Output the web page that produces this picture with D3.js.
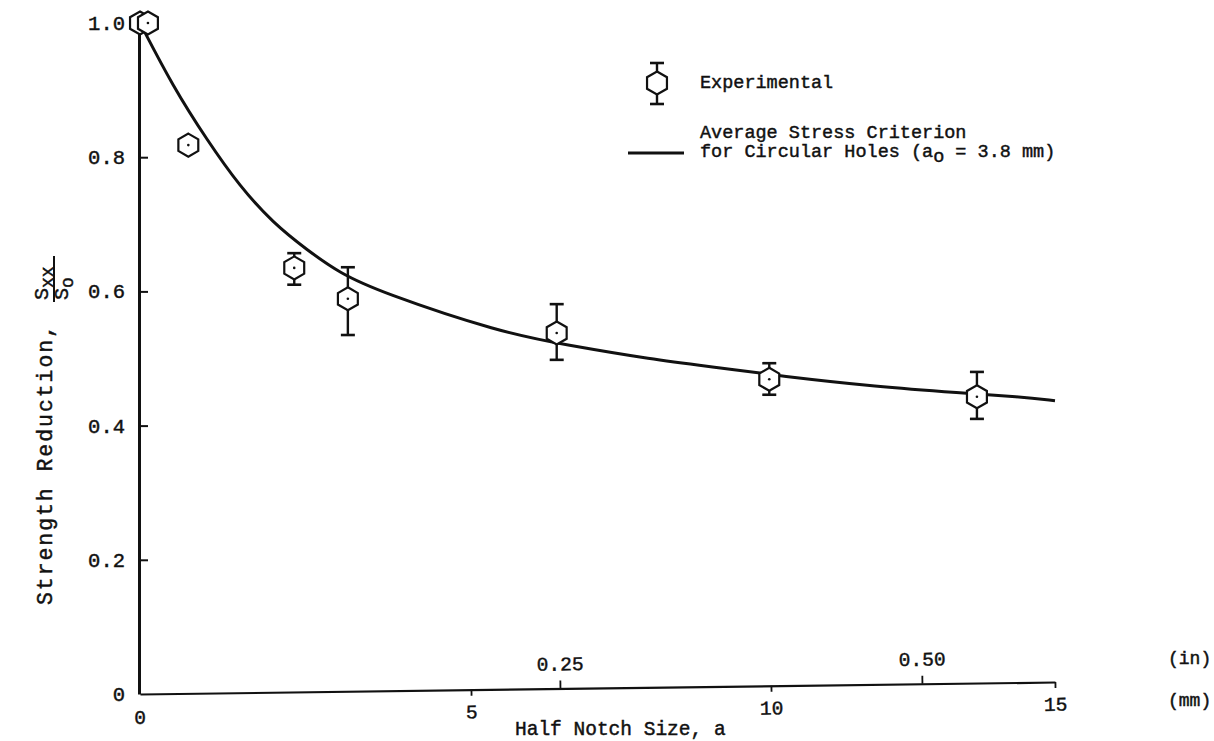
<!DOCTYPE html>
<html><head><meta charset="utf-8">
<script src="https://cdn.jsdelivr.net/npm/d3@7"></script>
<style>
body{margin:0;background:#fff;}
svg text{font-family:"Liberation Mono","DejaVu Sans Mono",monospace;fill:#111;stroke:#111;stroke-width:0.45px;}
</style></head><body>
<svg id="chart" width="1214" height="741"></svg>
<script>
// ---- data ----
const mmTicks = [5, 10, 15];
const mmTickLabels = ["5", "10", "15"];
const inTicks = [0.25, 0.50];
const inTickLabels = ["0.25", "0.50"];
const yTicks = [0, 0.2, 0.4, 0.6, 0.8, 1.0];
const yTickLabels = ["0", "0.2", "0.4", "0.6", "0.8", "1.0"];

const expA  = [0.0, 0.12, 0.73, 2.33, 3.14, 6.30, 9.97, 13.65];
const expS  = [1.0, 1.0, 0.818, 0.635, 0.589, 0.538, 0.469, 0.443];
const expHi = [null, null, null, 0.657, 0.636, 0.581, 0.493, 0.480];
const expLo = [null, null, null, 0.610, 0.535, 0.498, 0.446, 0.410];

const curveA = [0, 0.50, 1.01, 1.51, 2.01, 2.52, 3.02, 3.63, 5.44, 6.47, 7.91, 9.12, 10.16, 11.9, 13.36, 14.39, 15];
const curveS = [1.0, 0.905, 0.826, 0.756, 0.702, 0.662, 0.627, 0.599, 0.539, 0.520, 0.499, 0.486, 0.474, 0.458, 0.449, 0.443, 0.437];

// ---- scales ----
const svg = d3.select("#chart");
svg.append("rect").attr("width", 1214).attr("height", 741).attr("fill", "#fff");

const x = d3.scaleLinear().domain([0, 5, 6.35, 10, 12.7, 15]).range([140, 471, 560, 771, 922, 1055]);
const y = d3.scaleLinear().domain([0, 1]).range([694, 23]);

// ---- experimental markers (drawn under axis for the first one) ----
const R = 11.5;
const hex = d3.range(6).map(k => {
  const ang = -Math.PI / 2 + k * Math.PI / 3;
  return [R * Math.cos(ang), R * Math.sin(ang)];
});
const hexPath = "M" + hex.map(p => p.join(",")).join("L") + "Z";

function marker(g, cx, cy, yHi, yLo) {
  const m = g.append("g");
  if (yHi != null) {
    m.append("line").attr("x1", cx).attr("x2", cx).attr("y1", yHi).attr("y2", yLo)
      .attr("stroke", "#111").attr("stroke-width", 2.4);
    [yHi, yLo].forEach(v => m.append("line").attr("x1", cx - 7).attr("x2", cx + 7)
      .attr("y1", v).attr("y2", v).attr("stroke", "#111").attr("stroke-width", 2.6));
  }
  m.append("path").attr("d", hexPath).attr("transform", `translate(${cx},${cy})`)
    .attr("fill", "#fff").attr("stroke", "#111").attr("stroke-width", 2.2);
  m.append("circle").attr("cx", cx).attr("cy", cy).attr("r", 1.3).attr("fill", "#111");
}

// ---- y axis ----
const yAxis = d3.axisLeft(y).tickValues(yTicks).tickFormat((d, i) => yTickLabels[i])
  .tickSize(-9).tickSizeOuter(0).tickPadding(14);
const gy = svg.append("g").attr("transform", "translate(139,0)").call(yAxis);
gy.select(".domain").attr("stroke", "#111").attr("stroke-width", 3);
gy.selectAll(".tick line").attr("stroke", "#111").attr("stroke-width", 2)
  .filter(d => d === 0 || d === 1).remove();
gy.selectAll(".tick text").style("font-size", "20.5px").attr("fill", "#111");

// ---- x axes (slightly tilted as in the scan) ----
const gxWrap = svg.append("g").attr("transform", "translate(0,694) rotate(-0.75 140 0)");
const xAxis = d3.axisBottom(x).tickValues(mmTicks).tickFormat((d, i) => mmTickLabels[i])
  .tickSize(6).tickSizeOuter(0).tickPadding(9);
const gx = gxWrap.append("g").call(xAxis);
gx.select(".domain").attr("stroke", "#111").attr("stroke-width", 2.2);
gx.selectAll(".tick line").attr("stroke", "#111").attr("stroke-width", 1.8);
gx.selectAll(".tick text").style("font-size", "19.5px").attr("fill", "#111");

const xInAxis = d3.axisTop(x).tickValues(inTicks.map(v => v * 25.4))
  .tickFormat((d, i) => inTickLabels[i]).tickSize(8).tickSizeOuter(0).tickPadding(10);
const gxi = gxWrap.append("g").call(xInAxis);
gxi.select(".domain").remove();
gxi.selectAll(".tick line").attr("stroke", "#111").attr("stroke-width", 1.8);
gxi.selectAll(".tick text").style("font-size", "19.5px").attr("fill", "#111");

// origin label "0" under axis
svg.append("text").attr("x", x(0)).attr("y", 724).attr("text-anchor", "middle")
  .style("font-size", "19.5px").text("0");

// unit labels
svg.append("text").attr("x", 1168).attr("y", 664).style("font-size", "18px").text("(in)");
svg.append("text").attr("x", 1168).attr("y", 706).style("font-size", "18px").text("(mm)");

// axis titles
svg.append("text").attr("x", 515).attr("y", 735).style("font-size", "19.5px").text("Half Notch Size, a");

const yl = svg.append("g").attr("transform", "translate(52,605) rotate(-90)");
yl.append("text").attr("x", 0).attr("y", 0).style("font-size", "21.5px")
  .attr("textLength", 280).attr("lengthAdjust", "spacing").text("Strength Reduction,");
// fraction S_xx / S_o
const fr = yl.append("g").attr("transform", "translate(303,0)");
const num = fr.append("text").attr("x", 2).attr("y", -4).style("font-size", "20px");
num.append("tspan").text("S");
num.append("tspan").attr("dy", 5).style("font-size", "18px").text("xx");
fr.append("line").attr("x1", 0).attr("x2", 46).attr("y1", 2).attr("y2", 2)
  .attr("stroke", "#111").attr("stroke-width", 2);
const den = fr.append("text").attr("x", 2).attr("y", 16).style("font-size", "20px");
den.append("tspan").text("S");
den.append("tspan").attr("dy", 5).style("font-size", "18px").text("o");

// ---- curve ----
const curvePts = curveA.map((a, i) => [a, curveS[i]]);
svg.append("path").datum(curvePts)
  .attr("d", d3.line().x(d => x(d[0])).y(d => y(d[1])).curve(d3.curveBasis))
  .attr("fill", "none").attr("stroke", "#111").attr("stroke-width", 3);

const gm = svg.append("g");
expA.forEach((a, i) => marker(gm, x(a), y(expS[i]),
  expHi[i] == null ? null : y(expHi[i]), expLo[i] == null ? null : y(expLo[i])));

// ---- legend ----
const lg = svg.append("g");
lg.append("line").attr("x1", 657).attr("x2", 657).attr("y1", 63).attr("y2", 104)
  .attr("stroke", "#111").attr("stroke-width", 2.4);
[63, 104].forEach(v => lg.append("line").attr("x1", 650).attr("x2", 664).attr("y1", v).attr("y2", v)
  .attr("stroke", "#111").attr("stroke-width", 2.6));
lg.append("path").attr("d", hexPath).attr("transform", "translate(657,83)")
  .attr("fill", "#fff").attr("stroke", "#111").attr("stroke-width", 2.2);
lg.append("text").attr("x", 700).attr("y", 88).style("font-size", "18.5px").text("Experimental");

lg.append("line").attr("x1", 628).attr("x2", 684).attr("y1", 153).attr("y2", 153)
  .attr("stroke", "#111").attr("stroke-width", 3);
lg.append("text").attr("x", 700).attr("y", 138).style("font-size", "18.5px").text("Average Stress Criterion");
const l2 = lg.append("text").attr("x", 700).attr("y", 157).style("font-size", "18.5px");
l2.append("tspan").text("for Circular Holes (a");
l2.append("tspan").attr("dy", 5).text("o");
l2.append("tspan").attr("dy", -5).text(" = 3.8 mm)");
</script>
</body></html>
